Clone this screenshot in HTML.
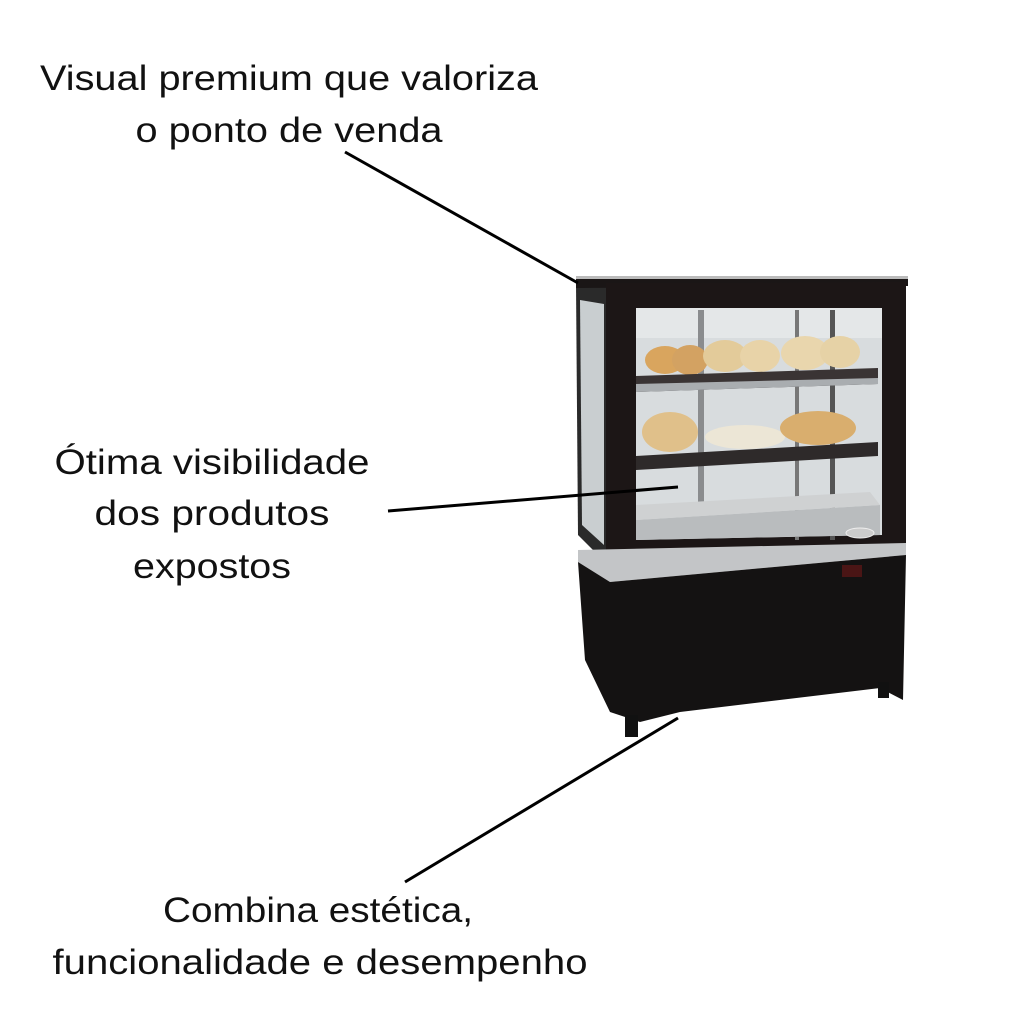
<!DOCTYPE html>
<html><head><meta charset="utf-8"><style>
html,body{margin:0;padding:0;background:#fff;width:1024px;height:1024px;overflow:hidden}
text{font-family:"Liberation Sans",sans-serif;font-size:35px;fill:#111}
</style></head><body>
<svg width="1024" height="1024" viewBox="0 0 1024 1024">
<!-- display case -->
<!-- side glass panel -->
<polygon points="576,283 608,285 608,565 578,535" fill="#2a2a2a"/>
<polygon points="580,300 604,304 604,545 582,525" fill="#c9ced0"/>
<!-- top -->
<polygon points="576,278 908,276 908,286 576,288" fill="#1a1616"/>
<rect x="576" y="276" width="332" height="3" fill="#bbb"/>
<!-- front frame -->
<polygon points="606,283 906,282 906,548 606,568" fill="#1c1616"/>
<!-- inner glass -->
<polygon points="636,308 882,308 882,535 636,540" fill="#d8dcde"/>
<rect x="636" y="308" width="246" height="30" fill="#e4e7e8"/>
<rect x="698" y="310" width="6" height="200" fill="#8a8c8e"/>
<rect x="795" y="310" width="4" height="230" fill="#777"/>
<rect x="830" y="310" width="5" height="230" fill="#555"/>
<!-- bread top shelf -->
<ellipse cx="665" cy="360" rx="20" ry="14" fill="#d9a55e"/>
<ellipse cx="690" cy="360" rx="18" ry="15" fill="#d3a262"/>
<ellipse cx="725" cy="356" rx="22" ry="16" fill="#e3cb9a"/>
<ellipse cx="760" cy="356" rx="20" ry="16" fill="#e8d3a8"/>
<ellipse cx="805" cy="353" rx="24" ry="17" fill="#e9d6ad"/>
<ellipse cx="840" cy="352" rx="20" ry="16" fill="#e6d2a6"/>
<!-- shelf 1 -->
<polygon points="636,376 878,368 878,384 636,392" fill="#3a3434"/>
<polygon points="636,384 878,378 878,384 636,392" fill="#a9adb0"/>
<!-- bread second shelf -->
<ellipse cx="670" cy="432" rx="28" ry="20" fill="#e0c08a"/>
<ellipse cx="745" cy="437" rx="40" ry="12" fill="#ece6d6"/>
<ellipse cx="818" cy="428" rx="38" ry="17" fill="#d9ae6e"/>
<!-- shelf 2 -->
<polygon points="636,456 878,442 878,456 636,470" fill="#2e2a2a"/>
<!-- base grill -->
<polygon points="636,520 880,505 880,535 636,540" fill="#b9bcbe"/>
<polygon points="636,505 870,492 880,505 636,520" fill="#cfd1d2"/>
<ellipse cx="860" cy="533" rx="14" ry="5" fill="#ccc" stroke="#eee"/>
<!-- silver band -->
<polygon points="578,550 906,543 906,555 610,582 578,562" fill="#c3c5c7"/>
<!-- lower cabinet -->
<polygon points="578,562 610,582 906,555 903,700 880,688 680,712 640,722 610,712 585,660" fill="#141212"/>
<rect x="625" y="715" width="13" height="22" fill="#111"/>
<rect x="878" y="682" width="11" height="16" fill="#111"/>
<rect x="842" y="565" width="20" height="12" fill="#4a1515"/>
<!-- leader lines -->
<g stroke="#000" stroke-width="3">
<line x1="345" y1="152" x2="578" y2="283"/>
<line x1="388" y1="511" x2="678" y2="487"/>
<line x1="405" y1="882" x2="678" y2="718"/>
</g>
<!-- labels -->
<text x="289" y="90" text-anchor="middle" textLength="498" lengthAdjust="spacingAndGlyphs">Visual premium que valoriza</text>
<text x="289" y="142" text-anchor="middle" textLength="307" lengthAdjust="spacingAndGlyphs">o ponto de venda</text>
<text x="212" y="474" text-anchor="middle" textLength="315" lengthAdjust="spacingAndGlyphs">Ótima visibilidade</text>
<text x="212" y="525" text-anchor="middle" textLength="235" lengthAdjust="spacingAndGlyphs">dos produtos</text>
<text x="212" y="578" text-anchor="middle" textLength="158" lengthAdjust="spacingAndGlyphs">expostos</text>
<text x="318" y="922" text-anchor="middle" textLength="310" lengthAdjust="spacingAndGlyphs">Combina estética,</text>
<text x="320" y="974" text-anchor="middle" textLength="535" lengthAdjust="spacingAndGlyphs">funcionalidade e desempenho</text>
</svg>
</body></html>
